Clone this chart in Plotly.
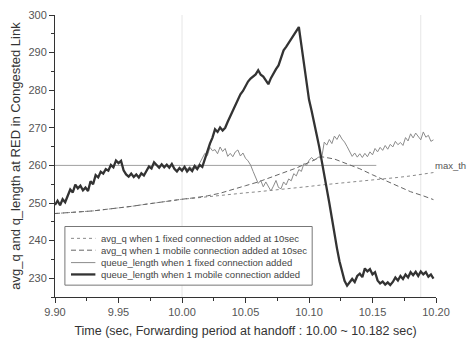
import plotly.graph_objects as go

# ---------------- data ----------------
T0_Q = 9.900
STEP_Q = 0.002
# queue_length when 1 mobile connection added (thick line), t = 9.900 .. 10.198 step 0.002
q_mobile = [
    249.5, 250.6, 249.4, 251.0, 250.2, 252.0, 253.6, 252.8, 254.9, 253.9,
    254.6, 253.4, 254.1, 253.2, 255.8, 255.0, 257.4, 256.8, 258.3, 257.8,
    259.0, 258.6, 260.1, 259.5, 261.3, 260.6, 261.2, 258.7, 257.6, 257.0,
    257.8, 256.9, 257.6, 256.8, 257.9, 257.3, 258.6, 259.7, 259.2, 260.8,
    260.1, 259.4, 260.3, 259.5, 260.2, 259.4, 260.4, 259.1, 258.4, 259.3,
    258.6, 259.6, 258.4, 259.2, 258.5, 259.8, 259.0, 260.1, 259.6, 261.8,
    263.5, 265.8, 267.4, 269.6, 268.9, 270.1, 269.3, 270.0, 271.6, 273.0,
    274.8, 276.2, 277.4, 278.9, 279.8, 281.2, 282.3, 283.1, 283.6, 284.2,
    285.3, 284.1, 283.6, 282.4, 281.6, 283.2, 284.5, 285.6, 286.6, 288.9,
    290.6, 291.5, 292.6, 293.8, 294.6, 296.0, 296.8, 292.0, 287.5, 282.0,
    277.5, 274.6, 271.0, 268.2, 265.0, 261.4, 258.0, 254.0, 250.0, 246.0,
    241.5, 238.0, 234.5, 231.5, 229.3, 228.0, 228.8, 229.8, 229.0, 230.6,
    231.2, 230.3, 232.6, 231.8, 232.4, 231.0, 231.6, 229.4, 228.6, 229.1,
    228.3, 228.9, 228.2, 229.0, 230.2, 229.4, 230.6, 229.8, 231.0, 230.2,
    231.6, 230.8, 231.7, 230.6, 231.8, 231.0, 231.6, 230.4, 231.0, 229.9,
]
# queue_length when 1 fixed connection added (thin line), identical up to 10.000,
# own values from 10.002 .. 10.198 step 0.002
q_fixed_after = [
    259.8, 258.9, 259.7, 259.1, 260.2, 259.4, 260.6, 261.9, 263.2, 262.6,
    264.8, 263.9, 264.2, 263.1, 264.9, 263.7, 264.5, 262.4, 263.2, 262.3,
    263.6, 264.1, 262.5, 263.3, 261.9, 261.2, 260.1, 258.4, 256.6, 255.2,
    256.0, 254.3, 255.6, 254.2, 253.2, 254.5, 256.0, 254.1, 253.8, 255.6,
    254.8, 256.4, 255.9, 257.8, 257.2, 258.9, 258.4, 260.5, 260.0, 261.3,
    262.1, 261.4, 261.8, 262.3, 262.0, 266.2, 265.4, 266.9, 265.8, 267.8,
    266.9, 268.2, 267.0, 266.2, 265.0, 263.6, 262.4, 263.3, 262.2, 263.1,
    262.1, 263.2, 262.3, 263.6, 262.8, 264.5, 263.6, 264.8, 264.0, 265.3,
    264.3, 265.6, 264.9, 266.4, 265.5, 266.1, 265.3, 267.4, 266.5, 268.4,
    267.3, 268.6, 267.6, 266.8, 268.9, 267.5, 268.0, 266.4, 266.8,
]
N_COMMON = 51  # samples up to t = 10.000 shared by both queue curves

# smooth averages
t_avg = [9.90, 9.91, 9.92, 9.93, 9.94, 9.95, 9.96, 9.97, 9.98, 9.99, 10.00,
         10.01, 10.02, 10.03, 10.04, 10.05, 10.06, 10.07, 10.08, 10.09, 10.10,
         10.11, 10.12, 10.13, 10.14, 10.15, 10.16, 10.17, 10.18, 10.19, 10.198]
avg_mobile = [247.2, 247.4, 247.7, 247.9, 248.3, 248.6, 249.1, 249.6, 250.1, 250.6, 251.0,
              251.4, 251.9, 252.6, 253.5, 254.6, 255.6, 256.8, 258.0, 259.3, 260.8,
              262.3, 261.7, 260.4, 259.1, 257.5, 256.0, 254.5, 253.0, 251.9, 250.9]
avg_fixed = [247.2, 247.4, 247.7, 247.9, 248.3, 248.6, 249.1, 249.6, 250.1, 250.6, 251.0,
             251.3, 251.7, 252.0, 252.4, 252.7, 253.0, 253.3, 253.6, 254.0, 254.4,
             254.8, 255.1, 255.4, 255.8, 256.1, 256.4, 256.8, 257.2, 257.7, 258.1]

max_th = 260
max_th_span = [9.90, 10.153]
period_marks = [10.00, 10.188]

legend_labels = [
    "avg_q when 1 fixed connection added at 10sec",
    "avg_q when 1 mobile connection added at 10sec",
    "queue_length when 1 fixed connection added",
    "queue_length when 1 mobile connection added",
]

# ---------------- build ----------------
t_q = [round(T0_Q + STEP_Q * k, 3) for k in range(len(q_mobile))]
q_fixed = q_mobile[:N_COMMON] + q_fixed_after
t_qf = t_q[:N_COMMON] + [round(10.002 + STEP_Q * k, 3) for k in range(len(q_fixed_after))]

styles = [
    dict(color="#8a8a8a", width=1, dash="dot"),
    dict(color="#666666", width=1, dash="5px,3px"),
    dict(color="#8c8c8c", width=1, dash="solid"),
    dict(color="#333333", width=2.3, dash="solid"),
]

FONT = "Liberation Sans, Arial"

fig = go.Figure()
for pm in period_marks:
    fig.add_shape(type="line", xref="x", yref="paper", x0=pm, x1=pm, y0=0, y1=1,
                  line=dict(color="#e6e6e6", width=1), layer="below")
fig.add_trace(go.Scatter(x=max_th_span, y=[max_th, max_th], mode="lines",
                         line=dict(color="#a0a0a0", width=1), showlegend=False, hoverinfo="skip"))
fig.add_trace(go.Scatter(x=t_avg, y=avg_fixed, mode="lines", line=styles[0], name=legend_labels[0]))
fig.add_trace(go.Scatter(x=t_avg, y=avg_mobile, mode="lines", line=styles[1], name=legend_labels[1]))
fig.add_trace(go.Scatter(x=t_qf, y=q_fixed, mode="lines", line=styles[2], name=legend_labels[2]))
fig.add_trace(go.Scatter(x=t_q, y=q_mobile, mode="lines", line=styles[3], name=legend_labels[3]))

# compact legend box (paper coordinates)
L_X0, L_X1, L_Y0, L_Y1 = 0.026, 0.675, 0.042, 0.25
item_y = [0.208, 0.166, 0.122, 0.080]
fig.add_shape(type="rect", xref="paper", yref="paper", x0=L_X0, x1=L_X1, y0=L_Y0, y1=L_Y1,
              line=dict(color="#777777", width=1), fillcolor="white", layer="above")
for lbl, yy, st in zip(legend_labels, item_y, styles):
    fig.add_shape(type="line", xref="paper", yref="paper", x0=0.042, x1=0.106, y0=yy, y1=yy,
                  line=st, layer="above")
    fig.add_annotation(xref="paper", yref="paper", x=0.116, y=yy, text=lbl, showarrow=False,
                       xanchor="left", yanchor="middle",
                       font=dict(family=FONT, size=9.5, color="#444444"))

fig.add_annotation(xref="paper", yref="y", x=1.083, y=max_th, text="max_th", showarrow=False,
                   xanchor="right", yanchor="middle",
                   font=dict(family=FONT, size=9.5, color="#555555"))

axis_common = dict(showgrid=False, zeroline=False, showline=True, linecolor="#333333", linewidth=1,
                   ticks="outside", ticklen=5, tickwidth=1, tickcolor="#333333",
                   tickfont=dict(family=FONT, size=11, color="#555555"))
fig.update_layout(
    width=469, height=347,
    margin=dict(l=55, r=33, t=9, b=50),
    paper_bgcolor="white", plot_bgcolor="white",
    showlegend=False,
    xaxis=dict(range=[9.90, 10.20], dtick=0.05, tick0=9.90, tickformat=".2f",
               minor=dict(dtick=0.025, ticks="outside", ticklen=3, tickcolor="#333333"),
               title=dict(text="Time (sec, Forwarding period at handoff : 10.00 ~ 10.182 sec)",
                          font=dict(family=FONT, size=12.5, color="#333333"),
                          standoff=9),
               **axis_common),
    yaxis=dict(range=[225, 300], dtick=10, tick0=230,
               minor=dict(dtick=5, ticks="outside", ticklen=3, tickcolor="#333333"),
               title=dict(text="avg_q and q_length at RED in Congested Link",
                          font=dict(family=FONT, size=13, color="#333333"),
                          standoff=4),
               **axis_common),
)
fig.write_html("out.html")
